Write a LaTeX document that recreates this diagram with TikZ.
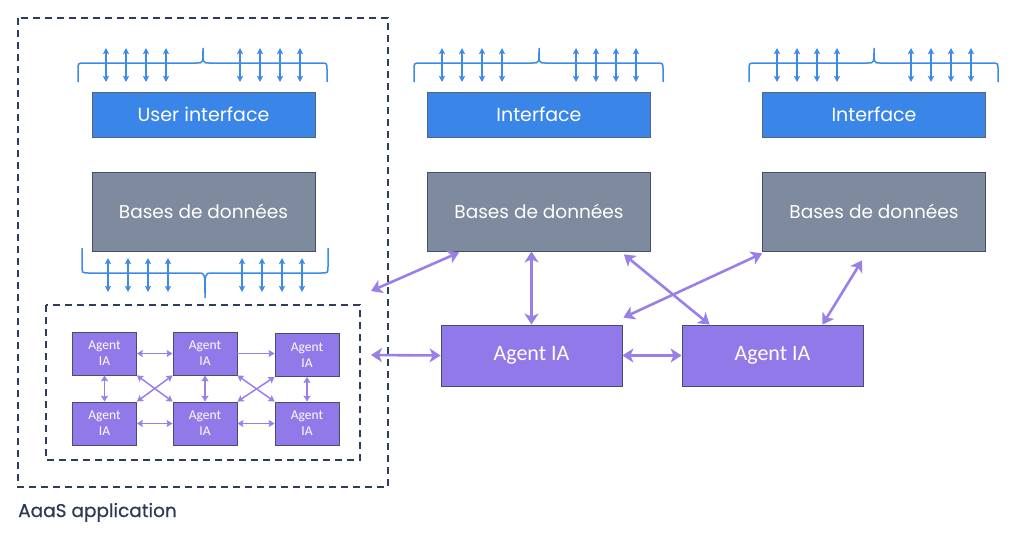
\documentclass[tikz,border=0pt]{standalone}
\usepackage{fontspec}
\setmainfont{Poppins}
\newfontfamily\agentfont{Carlito}
\newfontfamily\labelfont[FakeBold=0.6]{Poppins}
\usetikzlibrary{arrows.meta}
\definecolor{uiblue}{HTML}{3A85E8}
\definecolor{dbgray}{HTML}{7E8A9E}
\definecolor{agpurple}{HTML}{9279E9}
\definecolor{arpurple}{HTML}{9A7FEA}
\definecolor{navy}{HTML}{2F3D5A}
\definecolor{brblue}{HTML}{3D8AE8}

\begin{document}
\begin{tikzpicture}[x=1pt,y=-1pt,
  uibox/.style={draw=navy!80,line width=0.8pt,fill=uiblue,text=white,minimum width=223pt,minimum height=45pt,font=\fontsize{19}{22}\selectfont},
  dbbox/.style={draw=navy!90,line width=0.8pt,fill=dbgray,text=white,minimum width=223pt,minimum height=79pt,font=\fontsize{18.5}{22}\selectfont},
  agsmall/.style={draw=navy!90,line width=0.8pt,fill=agpurple,text=white,minimum width=64pt,minimum height=43pt,inner sep=1pt,align=center,font=\agentfont\fontsize{13.5}{16}\selectfont},
  agbig/.style={draw=navy!90,line width=0.8pt,fill=agpurple,text=white,minimum width=181pt,minimum height=61pt,font=\agentfont\fontsize{22}{24}\selectfont},
  bigarrow/.style={arpurple,line width=2.6pt,{Stealth[inset=3pt,length=11pt,width=14pt]}-{Stealth[inset=3pt,length=11pt,width=14pt]}},
  smallarrow/.style={arpurple,line width=1.5pt,{Stealth[inset=1pt,length=6pt,width=7pt]}-{Stealth[inset=1pt,length=6pt,width=7pt]}},
  bluearrow/.style={brblue,line width=1.5pt,{Stealth[inset=1pt,length=6pt,width=6pt]}-{Stealth[inset=1pt,length=6pt,width=6pt]}},
  bluebrace/.style={brblue,line width=1.5pt},
  dashbox/.style={navy,line width=1.4pt,dash pattern=on 7pt off 5pt}]
\useasboundingbox (0,0) rectangle (1024,543);

% application frames
\draw[dashbox] (18,18) rectangle (388,487);
\draw[dashbox] (46,305) rectangle (360,460);
\node[anchor=base west,inner sep=0pt,text=navy!95!black,font=\labelfont\fontsize{18.5}{22}\selectfont] (app) at (18,517) {AaaS application};

% interfaces and databases
\node[uibox] (ui1) at (203.5,114.5) {User interface};
\node[uibox] (ui2) at (539,114.5) {Interface};
\node[uibox] (ui3) at (874,114.5) {Interface};
\node[dbbox] (db1) at (203.5,211.5) {Bases de donn\'ees};
\node[dbbox] (db2) at (539,211.5) {Bases de donn\'ees};
\node[dbbox] (db3) at (874,211.5) {Bases de donn\'ees};

% braces above the interfaces
\foreach \x in {92,428,763} {
  \draw[bluebrace] (\x-14,82) -- (\x-14,70) .. controls (\x-14,63) .. (\x-7,63) -- (\x+105,63)
    .. controls (\x+111,63) .. (\x+111,48) .. controls (\x+111,63) .. (\x+117,63) -- (\x+228,63)
    .. controls (\x+235,63) .. (\x+235,70) -- (\x+235,82);
  \foreach \d in {14,34,54,74,148,168,188,208}
    \draw[bluearrow] (\x+\d,48) -- (\x+\d,82);
}
% brace below the first database
\draw[bluebrace] (82,248) -- (82,266) .. controls (82,273) .. (89,273) -- (199,273)
  .. controls (205,273) .. (205,298) .. controls (205,273) .. (211,273) -- (321,273)
  .. controls (328,273) .. (328,266) -- (328,248);
\foreach \d in {108,128,148,168,242,262,282,302}
  \draw[bluearrow] (\d,258) -- (\d,292);

% agents inside the application
\node[agsmall] (a1) at (104.5,353.5) {Agent\\IA};
\node[agsmall] (a2) at (205,353.5) {Agent\\IA};
\node[agsmall] (a3) at (307,355) {Agent\\IA};
\node[agsmall] (b1) at (104.5,423.5) {Agent\\IA};
\node[agsmall] (b2) at (205,423.5) {Agent\\IA};
\node[agsmall] (b3) at (307,423.5) {Agent\\IA};

\draw[smallarrow] (a1) -- (a2);
\draw[smallarrow,-{Stealth[inset=1pt,length=6pt,width=7pt]}] (a2) -- (a3.west |- a2);
\draw[smallarrow] (a1) -- (b1);
\draw[smallarrow] (a2) -- (b2);
\draw[smallarrow] (a3) -- (b3);
\draw[smallarrow] (b1) -- (b2);
\draw[smallarrow] (b2) -- (b3);
\draw[smallarrow] (a1.south east) -- (b2.north west);
\draw[smallarrow] (b1.north east) -- (a2.south west);
\draw[smallarrow] (a2.south east) -- (b3.north west);
\draw[smallarrow] (b2.north east) -- (a3.south west);

% outside agents
\node[agbig] (g1) at (531.5,355.5) {Agent IA};
\node[agbig] (g2) at (772.5,355.5) {Agent IA};

\coordinate (p1) at (371,291);
\coordinate (p2) at (371,355);
\draw[bigarrow] (p1) -- ([xshift=32pt,yshift=-1pt]db2.south west);
\draw[bigarrow] (p2) -- (g1.west);
\draw[bigarrow] (g1.north |- db2.south) -- (g1.north);
\draw[bigarrow] ([xshift=-27pt,yshift=-3pt]db2.south east) -- ([xshift=28pt]g2.north west);
\draw[bigarrow] ([yshift=-2pt]db3.south west) -- ([xshift=1pt,yshift=7pt]g1.north east);
\draw[bigarrow] ([xshift=-12pt,yshift=-9pt]db3.south) -- ([xshift=50pt]g2.north);
\draw[bigarrow] (g1) -- (g2);
\end{tikzpicture}
\end{document}
